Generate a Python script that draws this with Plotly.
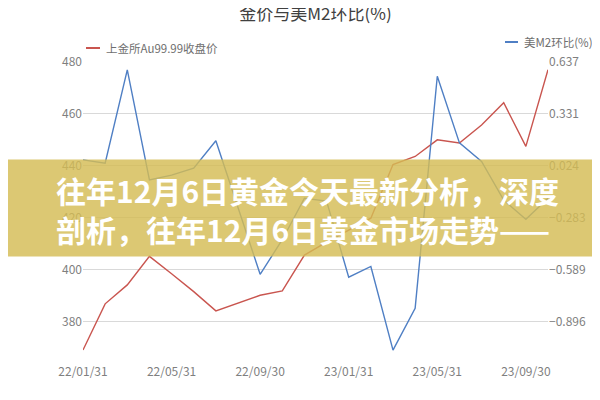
import plotly.graph_objects as go

dates = ["22/01/31", "22/02/28", "22/03/31", "22/04/30", "22/05/31", "22/06/30",
         "22/07/31", "22/08/31", "22/09/30", "22/10/31", "22/11/30", "22/12/31",
         "23/01/31", "23/02/28", "23/03/31", "23/04/30", "23/05/31", "23/06/30",
         "23/07/31", "23/08/31", "23/09/30", "23/10/31"]
gold_price = [369.0, 386.8, 394.1, 405.1, 398.4, 391.5, 384.1, 387.1, 390.1, 391.8, 405.6,
              410.6, 415.2, 419.8, 440.5, 443.6, 450.0, 448.8, 455.7, 464.3, 447.5, 477.0]
m2_mom = [0.059, 0.039, 0.591, -0.060, -0.031, 0.010, 0.172, -0.226, -0.617, -0.413, -0.168,
          -0.185, -0.634, -0.571, -1.065, -0.818, 0.553, 0.159, 0.050, -0.179, -0.292, -0.168]
x_ticks = ["22/01/31", "22/05/31", "22/09/30", "23/01/31", "23/05/31", "23/09/30"]
left_ticks = [380, 400, 420, 440, 460, 480]
right_ticks = [0.637, 0.331, 0.024, -0.283, -0.589, -0.896]
right_labels = ["0.637", "0.331", "0.024", "\u22120.283", "\u22120.589", "\u22120.896"]

name_gold = "上金所Au99.99收盘价"
name_m2 = "美M2环比(%)"
title = "金价与美M2环比(%)"
banner = "往年12月6日黄金今天最新分析，深度<br>剖析，往年12月6日黄金市场走势——"

RED = "#C9554F"
BLUE = "#4F7FC4"
GRAY = "#7f7f7f"
FONT = "Noto Sans CJK SC"

# layout geometry (pixels)
L, R, T, B = 75, 60, 54, 45
W, H = 600, 400
pw, ph = W - L - R, H - T - B

def px_x(x):
    return (x - L) / pw

def px_y(y):
    return (H - B - y) / ph

fig = go.Figure()
fig.add_trace(go.Scatter(x=dates, y=gold_price, name=name_gold, mode="lines",
                         line=dict(color=RED, width=1.4), yaxis="y", showlegend=False))
fig.add_trace(go.Scatter(x=dates, y=m2_mom, name=name_m2, mode="lines",
                         line=dict(color=BLUE, width=1.4), yaxis="y2", showlegend=False))

shapes = [
    dict(type="line", xref="paper", yref="paper", x0=px_x(78), x1=px_x(92),
         y0=px_y(40), y1=px_y(40), line=dict(color=RED, width=2)),
    dict(type="line", xref="paper", yref="paper", x0=px_x(497), x1=px_x(510),
         y0=px_y(34), y1=px_y(34), line=dict(color=BLUE, width=2)),
    dict(type="rect", xref="paper", yref="paper", x0=px_x(0), x1=px_x(600),
         y0=px_y(248.5), y1=px_y(151.5), fillcolor="rgba(212,188,84,0.82)",
         line=dict(width=0), layer="above"),
]
annotations = [
    dict(xref="paper", yref="paper", x=px_x(96), y=px_y(40), text=name_gold,
         showarrow=False, xanchor="left", yanchor="middle",
         font=dict(family=FONT, size=11.5, color="#6f6f6f")),
    dict(xref="paper", yref="paper", x=px_x(514), y=px_y(34), text=name_m2,
         showarrow=False, xanchor="left", yanchor="middle",
         font=dict(family=FONT, size=11.5, color="#6f6f6f")),
    dict(xref="paper", yref="paper", x=px_x(46), y=px_y(201), text=banner,
         showarrow=False, xanchor="left", yanchor="middle", align="left",
         font=dict(family=FONT, size=30, color="white", weight="bold")),
]

fig.update_layout(
    width=W, height=H,
    margin=dict(l=L, r=R, t=T, b=B),
    paper_bgcolor="white", plot_bgcolor="white",
    font=dict(family=FONT, size=12, color=GRAY),
    title=dict(text=title, x=0.5, xref="paper", xanchor="center", y=0.985, yanchor="middle",
               font=dict(family=FONT, size=17, color="#404040")),
    xaxis=dict(type="category", range=[0, len(dates) - 1], tickmode="array",
               tickvals=x_ticks, ticktext=x_ticks, showgrid=False, showline=False,
               zeroline=False, ticks="", tickfont=dict(size=12, color=GRAY)),
    yaxis=dict(range=[364, 480], tickmode="array", tickvals=left_ticks,
               showgrid=True, gridcolor="#d9d9d9", gridwidth=1, zeroline=False,
               showline=False, ticks="", tickfont=dict(size=12, color=GRAY)),
    yaxis2=dict(range=[0.637 - 116 * 0.01533, 0.637], overlaying="y", side="right",
                tickmode="array", tickvals=right_ticks, ticktext=right_labels,
                showgrid=False, zeroline=False, showline=False, ticks="",
                tickfont=dict(size=12, color=GRAY)),
    shapes=shapes,
    annotations=annotations,
)

fig.write_html("out.html")
